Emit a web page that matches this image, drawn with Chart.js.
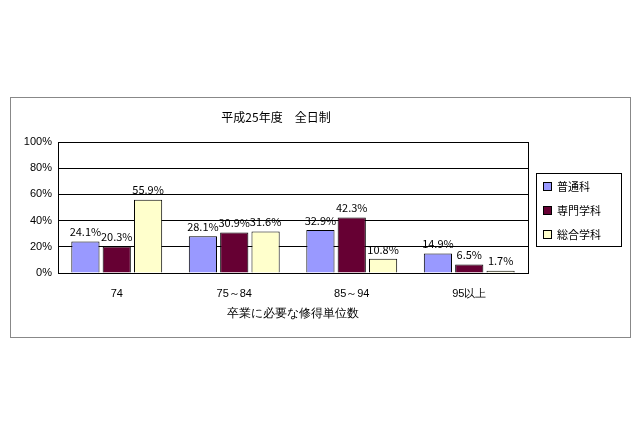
<!DOCTYPE html>
<html><head><meta charset="utf-8">
<script src="https://cdn.jsdelivr.net/npm/chart.js@4"></script>
<style>
body{margin:0;background:#fff;font-family:"Noto Sans CJK JP",sans-serif;}
#box{position:absolute;left:10px;top:97px;width:619px;height:239px;border:1px solid #888;}
#title{position:absolute;left:0;width:530px;top:10px;text-align:center;font-size:12px;}
#legend{position:absolute;left:525px;top:75px;width:84px;height:72px;border:1px solid #000;font-size:11px;}
#legend div{display:flex;align-items:center;height:24px;padding-left:6px;}
#legend span{display:inline-block;width:7px;height:7px;border:1px solid #000;margin-right:5px;}
canvas{position:absolute;left:0;top:0;}
</style></head><body>
<div id="box">
<canvas id="c" width="619" height="239"></canvas>
<div id="title">平成25年度　全日制</div>
<div id="legend"></div>
</div>
<script>
const categories = ["74", "75～84", "85～94", "95以上"];
const seriesNames = ["普通科", "専門学科", "総合学科"];
const futsuka = [24.1, 28.1, 32.9, 14.9];
const senmon = [20.3, 30.9, 42.3, 6.5];
const sogo = [55.9, 31.6, 10.8, 1.7];
const colors = ["#9999FF", "#660033", "#FFFFCC"];

document.getElementById("legend").innerHTML = seriesNames.map((n, i) =>
  `<div><span style="background:${colors[i]}"></span>${n}</div>`).join("");

const labelPlugin = {
  id: "labels",
  afterDatasetsDraw(chart) {
    const ctx = chart.ctx;
    const a = chart.chartArea;
    ctx.save();
    ctx.strokeStyle = "#000";
    ctx.lineWidth = 1;
    ctx.strokeRect(a.left + 0.5, a.top + 0.5, a.right - a.left, a.bottom - a.top);
    ctx.font = "11px 'Noto Sans CJK JP', sans-serif";
    ctx.fillStyle = "#000";
    ctx.textAlign = "center";
    ctx.textBaseline = "bottom";
    chart.data.datasets.forEach((ds, i) => {
      chart.getDatasetMeta(i).data.forEach((bar, j) => {
        ctx.fillText(ds.data[j].toFixed(1) + "%", bar.x, bar.y - 4);
      });
    });
    ctx.restore();
  }
};

new Chart(document.getElementById("c"), {
  type: "bar",
  data: {
    labels: categories,
    datasets: [futsuka, senmon, sogo].map((d, i) => ({
      label: seriesNames[i], data: d, backgroundColor: colors[i],
      borderColor: "#000", borderWidth: 1
    }))
  },
  options: {
    responsive: false, animation: false,
    layout: { padding: { top: 44, right: 102, left: 0, bottom: 0 } },
    plugins: { legend: { display: false }, tooltip: { enabled: false } },
    scales: {
      x: {
        grid: { display: false, drawTicks: false },
        border: { color: "#000" },
        categoryPercentage: 0.68, barPercentage: 1,
        ticks: { color: "#000", font: { size: 11 }, padding: 14 },
        title: { display: true, text: "卒業に必要な修得単位数", color: "#000", font: { size: 12 }, padding: { top: 8, bottom: 16 } },
        afterFit: s => { s.height = 64; }
      },
      y: {
        min: 0, max: 100,
        grid: { color: "#000", drawTicks: false },
        border: { color: "#000" },
        ticks: { stepSize: 20, color: "#000", font: { size: 11 }, padding: 6, callback: v => v + "%" },
        afterFit: s => { s.width = 47; }
      }
    }
  },
  plugins: [labelPlugin]
});
</script>
</body></html>
